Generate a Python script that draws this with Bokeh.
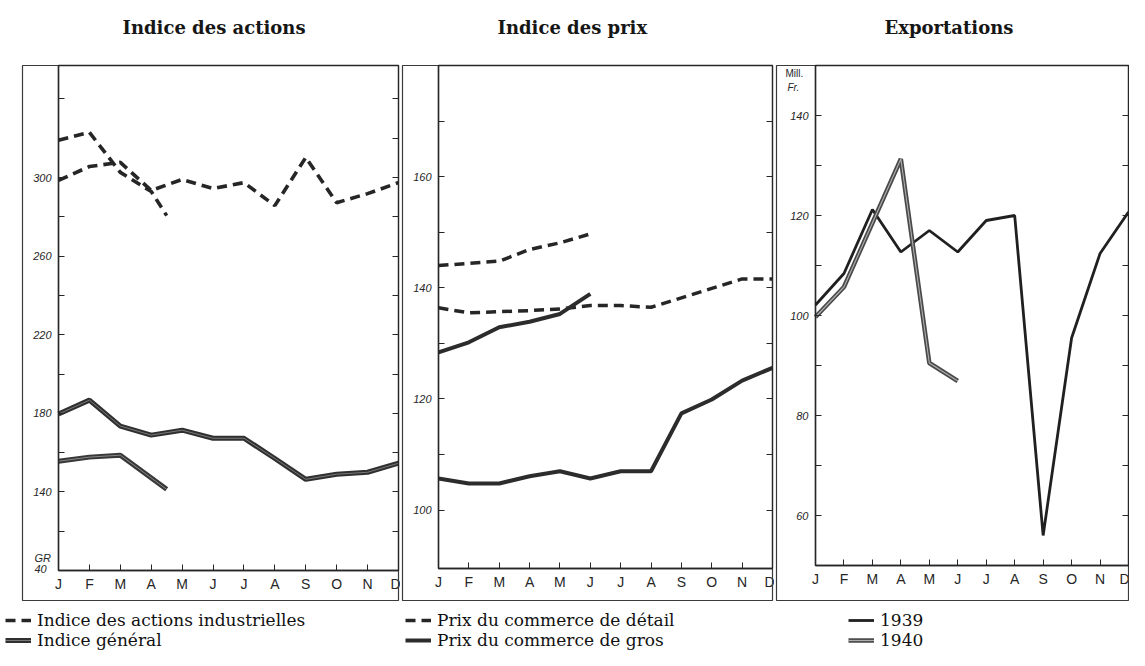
from bokeh.plotting import figure
from bokeh.layouts import row
from bokeh.models import FixedTicker, LinearAxis, Range1d, Legend, LegendItem, Label, BoxAnnotation
from bokeh.embed import file_html
from bokeh.resources import INLINE

# ---------------- data ----------------
month_labels = ["J", "F", "M", "A", "M", "J", "J", "A", "S", "O", "N", "D"]
months = list(range(12))

# Indice des actions
actions_ind_1939 = [298.5, 305.6, 307.7, 293.4, 299.0, 294.4, 297.4, 285.7, 310.2, 287.2, 291.8, 297.4]
actions_ind_1940_x = [0, 1, 2, 3, 3.5]
actions_ind_1940 = [318.9, 323.0, 302.6, 292.9, 280.6]
actions_gen_1939 = [179.6, 186.7, 173.5, 168.9, 171.4, 167.3, 167.3, 157.0, 146.4, 149.0, 150.0, 154.6]
actions_gen_1940_x = [0, 1, 2, 3.5]
actions_gen_1940 = [155.6, 157.7, 158.7, 141.3]
actions_yticks = [140, 180, 220, 260, 300]
actions_yminor = [120, 160, 200, 240, 280, 320, 340]

# Indice des prix
prix_detail_1939 = [136.4, 135.5, 135.7, 135.9, 136.2, 136.8, 136.8, 136.5, 138.2, 139.9, 141.6, 141.6]
prix_detail_1940 = [144.0, 144.4, 144.8, 146.9, 148.1, 149.7]
prix_gros_1939 = [105.7, 104.8, 104.8, 106.1, 107.0, 105.7, 107.0, 107.0, 117.4, 119.9, 123.3, 125.6]
prix_gros_1940 = [128.4, 130.2, 132.9, 133.9, 135.3, 138.9]
prix_yticks = [100, 120, 140, 160]
prix_yminor = [110, 130, 150, 170]

# Exportations (Mill. Fr.)
export_1939 = [102.1, 108.4, 121.2, 112.7, 117.0, 112.7, 119.0, 120.0, 56.0, 95.5, 112.4, 120.7]
export_1940 = [99.7, 105.7, 118.5, 131.3, 90.5, 86.9]
export_yticks = [60, 80, 100, 120, 140]
export_yminor = [70, 90, 110, 130]

# ---------------- style / layout ----------------
INK = "#262626"
FRAME = "#3a3a3a"
HEIGHT = 650
FIG_TOP = 50          # top of each figure's frame (title lives above it)
BOX_T, BOX_B = 65, 600
SERIF = "DejaVu Serif"
TICKFONT = "Liberation Sans"


def make_panel(title, title_start, fig_x0, fig_w, box_l, box_r, inner_l, inner_b,
               y_bottom, y_top, yticks, yminor):
    inner_r = box_r
    ppm = (inner_r - inner_l) / 11.0
    ppu = (inner_b - BOX_T) / float(y_top - y_bottom)
    x_lo = (fig_x0 - inner_l) / ppm
    x_hi = 11 + (fig_x0 + fig_w - inner_r) / ppm
    y_lo = y_bottom - (HEIGHT - inner_b) / ppu
    y_hi = y_top + (BOX_T - FIG_TOP) / ppu

    p = figure(width=fig_w, height=HEIGHT, x_range=Range1d(x_lo, x_hi), y_range=Range1d(y_lo, y_hi),
               x_axis_location=None, y_axis_location=None,
               output_backend="svg", toolbar_location=None, tools="", title=title,
               min_border_left=0, min_border_right=0,
               min_border_top=FIG_TOP, min_border_bottom=0)
    p.grid.visible = False
    p.background_fill_color = "white"
    p.border_fill_color = "white"
    p.outline_line_color = None

    p.title.align = "left"
    p.title.offset = title_start - fig_x0
    p.title.standoff = 26
    p.title.text_font = SERIF
    p.title.text_font_size = "18px"
    p.title.text_font_style = "bold"
    p.title.text_color = "#161616"

    def at(xp, yp):
        return x_lo + (xp - fig_x0) / ppm, y_hi - (yp - FIG_TOP) / ppu

    bl, bt = at(box_l, BOX_T)
    br, bb = at(box_r, BOX_B)
    p.add_layout(BoxAnnotation(left=bl, right=br, top=bt, bottom=bb, fill_color=None,
                               line_color=FRAME, line_width=1.2, line_alpha=1.0))
    # top and right edges of the plotting area coincide with the box
    p.add_layout(BoxAnnotation(left=0, right=11, top=y_top, bottom=y_bottom, fill_color=None,
                               line_color=INK, line_width=1.3, line_alpha=1.0))

    xa = LinearAxis(ticker=FixedTicker(ticks=months), fixed_location=y_bottom, bounds=(0, 11))
    xa.major_label_overrides = {i: m for i, m in enumerate(month_labels)}
    xa.major_tick_in = 6
    xa.major_tick_out = 0
    xa.minor_tick_line_color = None
    xa.axis_line_color = INK
    xa.axis_line_width = 1.4
    xa.major_tick_line_color = INK
    xa.major_label_text_font = TICKFONT
    xa.major_label_text_font_size = "14px"
    xa.major_label_text_color = INK
    xa.major_label_standoff = 5
    p.add_layout(xa, "below")

    ya = LinearAxis(ticker=FixedTicker(ticks=yticks, minor_ticks=yminor),
                    fixed_location=0, bounds=(y_bottom, y_top))
    ya.major_tick_in = 6
    ya.major_tick_out = 0
    ya.minor_tick_in = 6
    ya.minor_tick_out = 0
    ya.axis_line_color = INK
    ya.axis_line_width = 1.4
    ya.major_tick_line_color = INK
    ya.minor_tick_line_color = INK
    ya.major_label_text_font = TICKFONT
    ya.major_label_text_font_size = "11px"
    ya.major_label_text_font_style = "italic"
    ya.major_label_text_color = INK
    ya.major_label_standoff = 7
    p.add_layout(ya, "left")

    ra = LinearAxis(ticker=FixedTicker(ticks=yticks, minor_ticks=yminor),
                    fixed_location=11, bounds=(y_bottom, y_top))
    ra.major_label_overrides = {t: "" for t in yticks}
    ra.major_label_standoff = 0
    ra.major_tick_in = 6
    ra.major_tick_out = 0
    ra.minor_tick_in = 6
    ra.minor_tick_out = 0
    ra.axis_line_color = None
    ra.major_tick_line_color = INK
    ra.minor_tick_line_color = INK
    p.add_layout(ra, "right")

    return p, at


def style_legend(leg):
    leg.label_text_font = SERIF
    leg.label_text_font_size = "17px"
    leg.label_text_color = "#111111"
    leg.glyph_width = 26
    leg.glyph_height = 18
    leg.label_height = 18
    leg.label_standoff = 6
    leg.spacing = 0
    leg.padding = 0
    leg.margin = 0
    leg.border_line_color = None
    leg.background_fill_alpha = 0


def add_label(p, at, xp, yp, text, size="11px", style="italic", baseline="middle"):
    x, y = at(xp, yp)
    p.add_layout(Label(x=x, y=y, text=text, text_font=TICKFONT, text_font_size=size,
                       text_font_style=style, text_color=INK, text_baseline=baseline))


# ---------------- panel 1 ----------------
p1, at1 = make_panel("Indice des actions", 122, 0, 400, 22, 398, 58, 570, 100, 357,
                     actions_yticks, actions_yminor)
r_ind39 = p1.line(months, actions_ind_1939, line_color=INK, line_width=3.6, line_dash="10 6")
r_ind40 = p1.line(actions_ind_1940_x, actions_ind_1940, line_color=INK, line_width=3.6, line_dash="10 6")
r_gen39a = p1.line(months, actions_gen_1939, line_color="#303030", line_width=5)
r_gen39b = p1.line(months, actions_gen_1939, line_color="#b5b5b5", line_width=1, line_alpha=0.55)
r_gen40a = p1.line(actions_gen_1940_x, actions_gen_1940, line_color="#383838", line_width=5)
r_gen40b = p1.line(actions_gen_1940_x, actions_gen_1940, line_color="#bdbdbd", line_width=1, line_alpha=0.6)
add_label(p1, at1, 34, 557, "GR")
add_label(p1, at1, 34, 568, "40")
leg1 = Legend(items=[LegendItem(label="Indice des actions industrielles", renderers=[r_ind39]),
                     LegendItem(label="Indice général", renderers=[r_gen39a, r_gen39b])],
              location=(5, 0))
style_legend(leg1)
p1.add_layout(leg1)

# ---------------- panel 2 ----------------
p2, at2 = make_panel("Indice des prix", 497, 400, 374, 402, 772, 438, 568, 89.5, 180,
                     prix_yticks, prix_yminor)
r_det39 = p2.line(months, prix_detail_1939, line_color=INK, line_width=3.5, line_dash="10 6")
r_det40 = p2.line(months[:6], prix_detail_1940, line_color=INK, line_width=3.5, line_dash="10 6")
r_gros39 = p2.line(months, prix_gros_1939, line_color="#2c2c2c", line_width=4)
r_gros40 = p2.line(months[:6], prix_gros_1940, line_color="#2c2c2c", line_width=4)
leg2 = Legend(items=[LegendItem(label="Prix du commerce de détail", renderers=[r_det39]),
                     LegendItem(label="Prix du commerce de gros", renderers=[r_gros39])],
              location=(5, 0))
style_legend(leg2)
p2.add_layout(leg2)

# ---------------- panel 3 ----------------
p3, at3 = make_panel("Exportations", 884, 774, 355, 776, 1128, 815, 565, 50, 150,
                     export_yticks, export_yminor)
r_exp39 = p3.line(months, export_1939, line_color="#202020", line_width=2.8)
r_exp40a = p3.line(months[:6], export_1940, line_color="#4a4a4a", line_width=4.5)
r_exp40b = p3.line(months[:6], export_1940, line_color="#c8c8c8", line_width=1.1, line_alpha=0.8)
add_label(p3, at3, 785, 67, "Mill.", size="10px", style="normal", baseline="top")
add_label(p3, at3, 787, 81, "Fr.", size="10px", style="italic", baseline="top")
leg3 = Legend(items=[LegendItem(label="1939", renderers=[r_exp39]),
                     LegendItem(label="1940", renderers=[r_exp40a, r_exp40b])],
              location=(74, 0))
style_legend(leg3)
p3.add_layout(leg3)

layout = row(p1, p2, p3, spacing=0)
open("out.html", "w").write(file_html(layout, INLINE))
